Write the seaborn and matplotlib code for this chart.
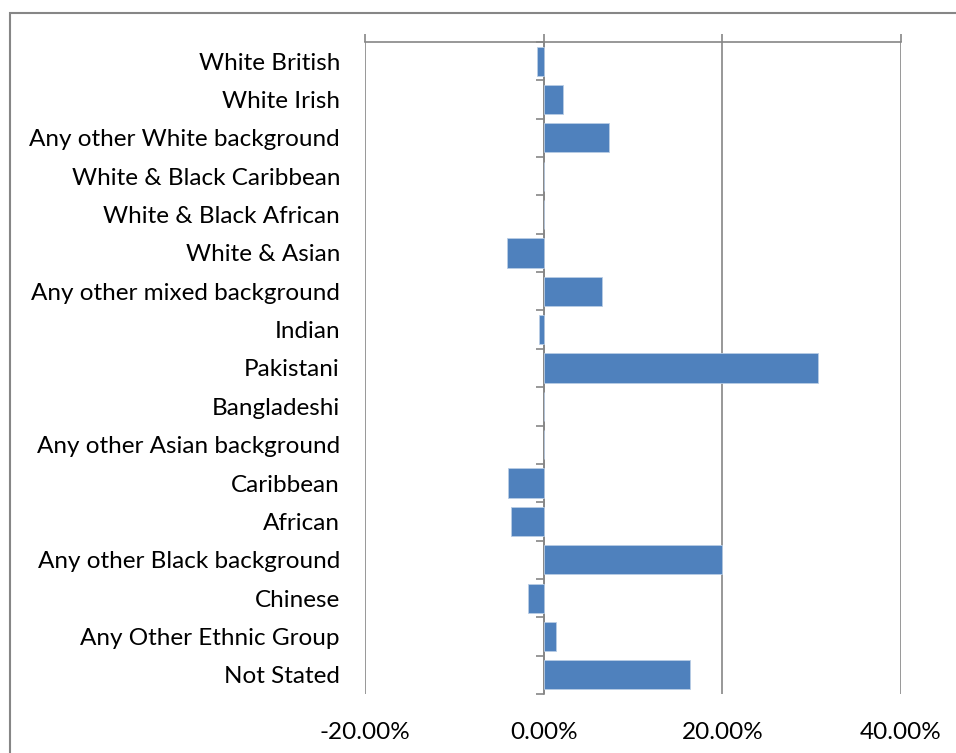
import matplotlib
matplotlib.use("Agg")
import matplotlib.pyplot as plt
import seaborn as sns
import pandas as pd
from matplotlib.patches import Rectangle
from matplotlib.ticker import PercentFormatter

categories = [
    "White British", "White Irish", "Any other White background",
    "White & Black Caribbean", "White & Black African", "White & Asian",
    "Any other mixed background", "Indian", "Pakistani", "Bangladeshi",
    "Any other Asian background", "Caribbean", "African",
    "Any other Black background", "Chinese", "Any Other Ethnic Group",
    "Not Stated",
]
values = [-0.7, 2.2, 7.3, 0.0, 0.0, -4.1, 6.5, -0.5, 30.7, 0.0, 0.0,
          -4.0, -3.7, 20.0, -1.8, 1.4, 16.4]
x_ticks = [-20, 0, 20, 40]

df = pd.DataFrame({"category": categories, "value": values})

sns.set_style("white")
plt.rcParams["font.family"] = ["Lato", "DejaVu Sans"]
plt.rcParams["axes.unicode_minus"] = False

W, H = 956, 753
fig = plt.figure(figsize=(W / 100, H / 100), dpi=100)
ax = fig.add_axes([365 / W, 1 - 694 / H, (901 - 365) / W, (694 - 42) / H])

grey = "#868686"
sns.barplot(data=df, x="value", y="category", orient="h", color="#4F81BD",
            saturation=1, width=0.76, edgecolor="#B9CDE5", linewidth=0.6,
            ax=ax, zorder=3)

ax.set_xlim(-20, 40)
ax.set_ylim(len(categories) - 0.5, -0.5)
ax.set_xticks(x_ticks)
ax.xaxis.set_major_formatter(PercentFormatter(decimals=2))
ax.grid(axis="x", color=grey, linewidth=1.2, zorder=1)
ax.grid(axis="y", visible=False)
ax.set_xlabel("")
ax.set_ylabel("")

for s in ["left", "right", "bottom"]:
    ax.spines[s].set_visible(False)
ax.spines["top"].set_color(grey)
ax.spines["top"].set_linewidth(1.2)

ax.tick_params(axis="x", top=True, bottom=False, labeltop=False,
               labelbottom=True, length=6, width=1.2, color=grey,
               pad=14, labelsize=17.5, labelcolor="black", direction="out")
ax.tick_params(axis="y", left=False, length=0, pad=18, labelsize=17.5,
               labelcolor="black")

# category axis at zero with boundary tick marks
zero_frac = (0 - x_ticks[0]) / (x_ticks[-1] - x_ticks[0])
sec = ax.secondary_yaxis(zero_frac)
sec.spines["left"].set_color(grey)
sec.spines["left"].set_linewidth(1.2)
sec.set_yticks([i - 0.5 for i in range(len(categories) + 1)])
sec.set_yticklabels([])
sec.tick_params(axis="y", length=6, width=1.2, color=grey, direction="out")

# figure border
fig.patches.append(Rectangle((10 / W, -0.1), 1.1, 1 - 13 / H + 0.1,
                             transform=fig.transFigure, fill=False,
                             edgecolor=grey, linewidth=1.5))

fig.savefig("out.png", dpi=100)
